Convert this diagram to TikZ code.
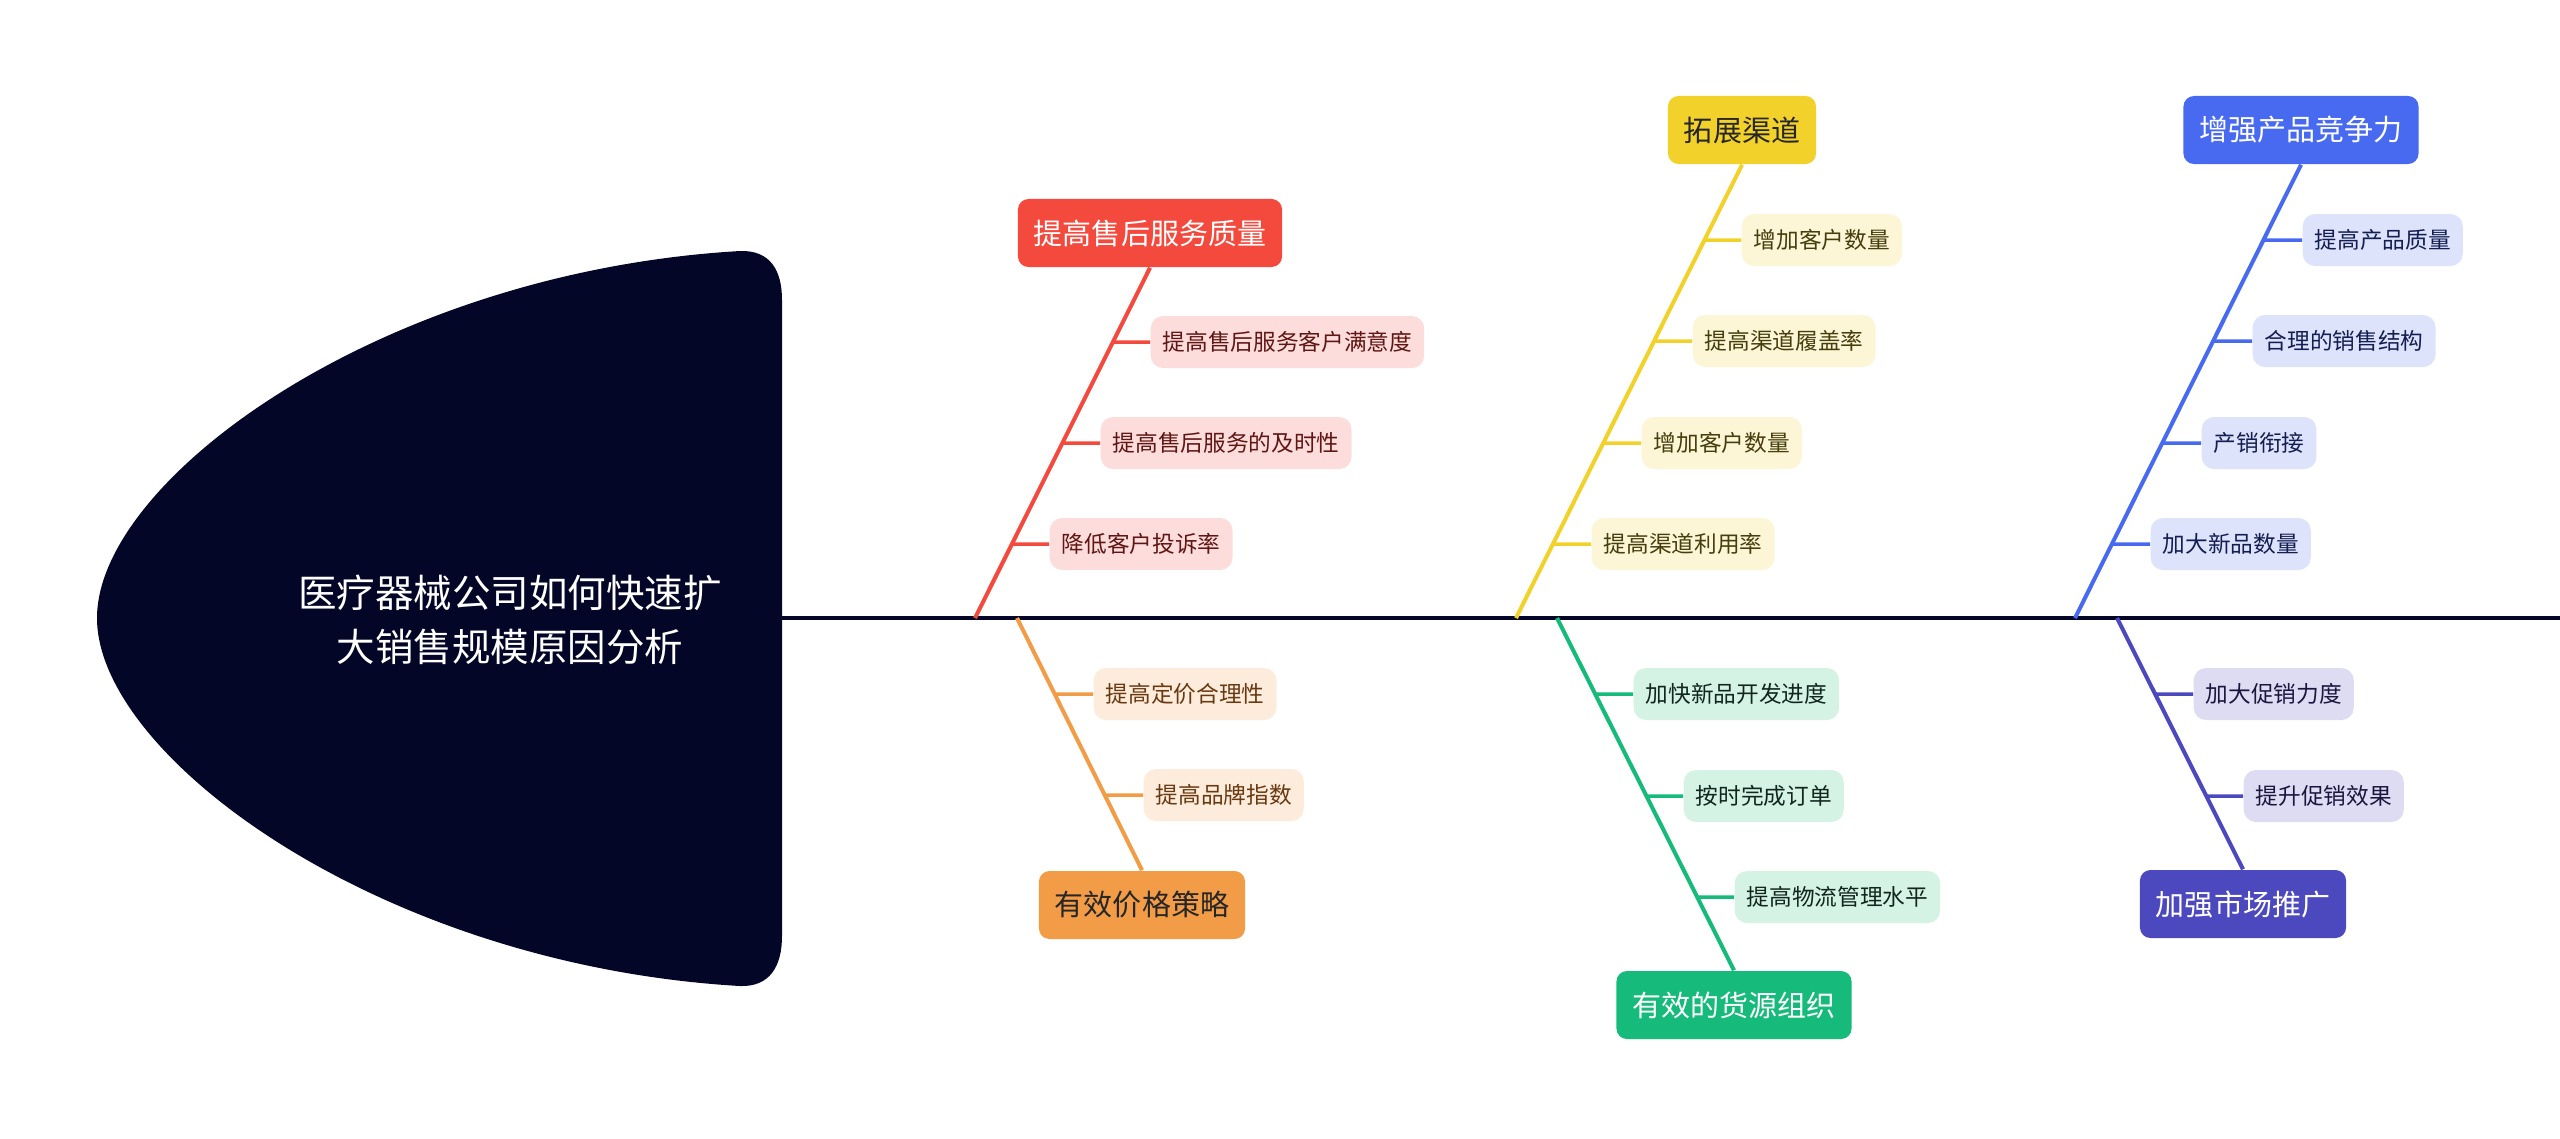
\documentclass[tikz,border=0pt]{standalone}
\usepackage{fontspec}
\setmainfont{Noto Sans CJK SC}
\usetikzlibrary{positioning}

\definecolor{headC}{RGB}{4,6,40}
\definecolor{rMain}{RGB}{244,74,62}
\definecolor{rLight}{RGB}{252,221,219}
\definecolor{rText}{RGB}{95,22,20}
\definecolor{oMain}{RGB}{242,156,72}
\definecolor{oLight}{RGB}{253,236,220}
\definecolor{oText}{RGB}{105,58,18}
\definecolor{yMain}{RGB}{242,210,42}
\definecolor{yLight}{RGB}{252,245,214}
\definecolor{yText}{RGB}{70,62,12}
\definecolor{gMain}{RGB}{22,186,122}
\definecolor{gLight}{RGB}{212,243,229}
\definecolor{gText}{RGB}{18,38,30}
\definecolor{bMain}{RGB}{72,106,240}
\definecolor{bLight}{RGB}{220,227,250}
\definecolor{bText}{RGB}{20,30,82}
\definecolor{pMain}{RGB}{76,72,190}
\definecolor{pLight}{RGB}{222,220,243}
\definecolor{pText}{RGB}{26,22,62}

\tikzset{
  cause/.style={rounded corners=3pt, minimum height=0.68cm, inner xsep=0.16cm, inner ysep=0pt,
    font=\fontsize{8.25}{10}\selectfont},
  detail/.style={rounded corners=3.5pt, minimum height=0.52cm, inner xsep=0.12cm, inner ysep=0pt,
    anchor=west, font=\fontsize{6.45}{8}\selectfont},
  bone/.style={line width=1.15pt},
  twig/.style={line width=1pt},
  spine/.style={line width=1.4pt, draw=headC},
  rcause/.style={cause, fill=rMain, text=white}, rdetail/.style={detail, fill=rLight, text=rText},
  ocause/.style={cause, fill=oMain, text=black!85}, odetail/.style={detail, fill=oLight, text=oText},
  ycause/.style={cause, fill=yMain, text=black!85}, ydetail/.style={detail, fill=yLight, text=yText},
  gcause/.style={cause, fill=gMain, text=white}, gdetail/.style={detail, fill=gLight, text=gText},
  bcause/.style={cause, fill=bMain, text=white}, bdetail/.style={detail, fill=bLight, text=bText},
  pcause/.style={cause, fill=pMain, text=white}, pdetail/.style={detail, fill=pLight, text=pText},
}

\begin{document}
\begin{tikzpicture}[x=0.01cm, y=-0.01cm]
\useasboundingbox (0,0) rectangle (2560,1138);

% fish head
\fill[headC] (97,618) .. controls (97,480) and (380,272) .. (740,251)
  .. controls (770,250) and (782,270) .. (782,300) -- (782,936)
  .. controls (782,966) and (770,987) .. (740,986)
  .. controls (380,965) and (97,756) .. (97,618) -- cycle;
\node[text=white, align=center, font=\fontsize{10.95}{15.4}\selectfont] (title) at (510,620)
  {医疗器械公司如何快速扩\\大销售规模原因分析};
\coordinate (tail) at (782,618);
\coordinate (end) at (2560,618);
\draw[spine] (tail) -- (end);

% red
\node[rcause] (rq) at (1150,233) {提高售后服务质量};
\coordinate (r0) at (975,618);
\draw[bone, draw=rMain] (rq.south) -- (r0);
\node[rdetail] (r1) at (1150,342) {提高售后服务客户满意度};
\node[rdetail] (r2) at (1100,443) {提高售后服务的及时性};
\node[rdetail] (r3) at (1049,544) {降低客户投诉率};
\foreach \i in {1,2,3}
  \draw[twig, draw=rMain] (intersection of rq.south--r0 and r\i.west--r\i.east) -- (r\i.west);

% orange
\node[ocause] (oq) at (1142,905) {有效价格策略};
\coordinate (o0) at (1017,618);
\draw[bone, draw=oMain] (o0) -- (oq.north);
\node[odetail] (o1) at (1093,694) {提高定价合理性};
\node[odetail] (o2) at (1143,795) {提高品牌指数};
\foreach \i in {1,2}
  \draw[twig, draw=oMain] (intersection of oq.north--o0 and o\i.west--o\i.east) -- (o\i.west);

% yellow
\node[ycause] (yq) at (1742,130) {拓展渠道};
\coordinate (y0) at (1516,618);
\draw[bone, draw=yMain] (yq.south) -- (y0);
\node[ydetail] (y1) at (1741,240) {增加客户数量};
\node[ydetail] (y2) at (1692,341) {提高渠道履盖率};
\node[ydetail] (y3) at (1641,443) {增加客户数量};
\node[ydetail] (y4) at (1591,544) {提高渠道利用率};
\foreach \i in {1,...,4}
  \draw[twig, draw=yMain] (intersection of yq.south--y0 and y\i.west--y\i.east) -- (y\i.west);

% green
\node[gcause] (gq) at (1734,1005) {有效的货源组织};
\coordinate (g0) at (1557,618);
\draw[bone, draw=gMain] (g0) -- (gq.north);
\node[gdetail] (g1) at (1633,694) {加快新品开发进度};
\node[gdetail] (g2) at (1683,796) {按时完成订单};
\node[gdetail] (g3) at (1734,897) {提高物流管理水平};
\foreach \i in {1,2,3}
  \draw[twig, draw=gMain] (intersection of gq.north--g0 and g\i.west--g\i.east) -- (g\i.west);

% blue
\node[bcause] (bq) at (2301,130) {增强产品竞争力};
\coordinate (b0) at (2075,618);
\draw[bone, draw=bMain] (bq.south) -- (b0);
\node[bdetail] (b1) at (2302,240) {提高产品质量};
\node[bdetail] (b2) at (2252,341) {合理的销售结构};
\node[bdetail] (b3) at (2201,443) {产销衔接};
\node[bdetail] (b4) at (2150,544) {加大新品数量};
\foreach \i in {1,...,4}
  \draw[twig, draw=bMain] (intersection of bq.south--b0 and b\i.west--b\i.east) -- (b\i.west);

% purple
\node[pcause] (pq) at (2243,904) {加强市场推广};
\coordinate (p0) at (2117,618);
\draw[bone, draw=pMain] (p0) -- (pq.north);
\node[pdetail] (p1) at (2193,694) {加大促销力度};
\node[pdetail] (p2) at (2243,796) {提升促销效果};
\foreach \i in {1,2}
  \draw[twig, draw=pMain] (intersection of pq.north--p0 and p\i.west--p\i.east) -- (p\i.west);
\end{tikzpicture}
\end{document}
